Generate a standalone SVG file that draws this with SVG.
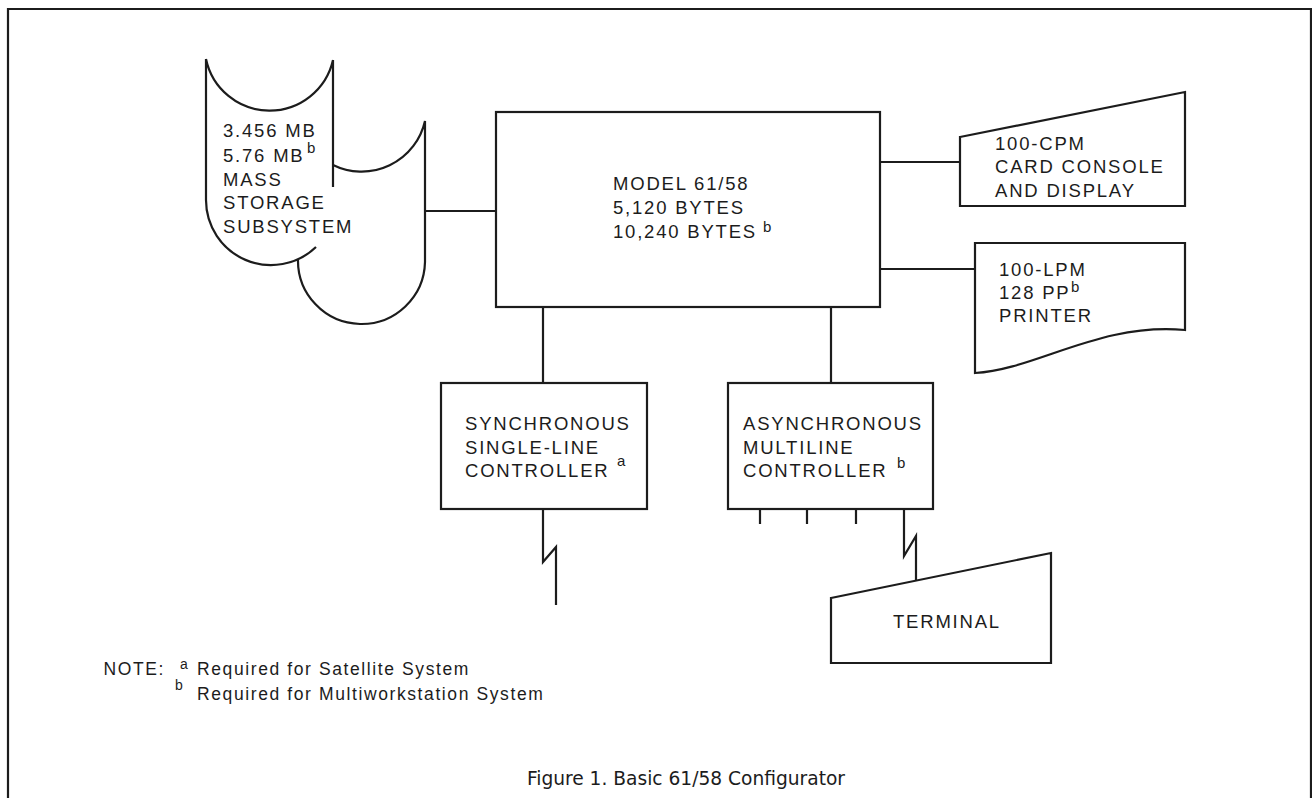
<svg xmlns="http://www.w3.org/2000/svg" width="1312" height="798" viewBox="0 0 1312 798">
<style>
.ln{fill:none;stroke:#1c1c1c;stroke-width:2.2}
.sh{fill:#fff;stroke:#1c1c1c;stroke-width:2.2}
.t{font-family:"Liberation Sans",Arial,sans-serif;font-size:18.5px;letter-spacing:1.8px;fill:#1c1c1c}
.sup{font-family:"Liberation Sans",Arial,sans-serif;font-size:15px;fill:#1c1c1c}
.nsup{font-family:"Liberation Sans",Arial,sans-serif;font-size:14px;fill:#1c1c1c}
.n{font-family:"Liberation Sans",Arial,sans-serif;font-size:17.5px;letter-spacing:1.6px;fill:#1c1c1c}
.cap{font-family:"Liberation Sans Narrow","DejaVu Sans Condensed","Liberation Sans",sans-serif;font-size:20px;fill:#1c1c1c}
</style>
<rect width="1312" height="798" fill="#fff"/>
<path id="frame" class="ln" d="M8,800 V9 H1311 V800"/>
<g id="connectors">
<path class="ln" d="M425,211 H496"/>
<path class="ln" d="M880,162 H960"/>
<path class="ln" d="M880,269 H975"/>
<path class="ln" d="M543,307 V383"/>
<path class="ln" d="M831,307 V383"/>
<path class="ln" d="M543,509 V562 L556,547 V605"/>
<path class="ln" d="M904,509 V556 L916,536 V581"/>
<path class="ln" d="M760,509 v15 M807,509 v15 M856,509 v15"/>
</g>
<g id="mass-storage">
<path class="ln" d="M206,59 A65,65 0 0 0 333,60 M206,59 V200 A65,65 0 0 0 316,247 M333,60 V187"/>
<path class="ln" d="M333,165 A65,65 0 0 0 425,121 V262 A63.5,63.5 0 0 1 298,259"/>
<text class="t" x="223" y="137">3.456 MB</text>
<text class="t" x="223" y="162">5.76 MB</text>
<text class="sup" x="307" y="153">b</text>
<text class="t" x="223" y="186">MASS</text>
<text class="t" x="223" y="209">STORAGE</text>
<text class="t" x="223" y="233">SUBSYSTEM</text>
</g>
<g id="model">
<rect class="sh" x="496" y="112" width="384" height="195"/>
<text class="t" x="613" y="190">MODEL 61/58</text>
<text class="t" x="613" y="214">5,120 BYTES</text>
<text class="t" x="613" y="238">10,240 BYTES</text>
<text class="sup" x="763" y="232">b</text>
</g>
<g id="card-console">
<path class="sh" d="M960,137 L1185,92 V206 H960 Z"/>
<text class="t" x="995" y="150">100-CPM</text>
<text class="t" x="995" y="173">CARD CONSOLE</text>
<text class="t" x="995" y="197">AND DISPLAY</text>
</g>
<g id="printer">
<path class="sh" d="M975,243 H1185 V330 C1100,322 1035,370 975,373 Z"/>
<text class="t" x="999" y="276">100-LPM</text>
<text class="t" x="999" y="299">128 PP</text>
<text class="sup" x="1071" y="292">b</text>
<text class="t" x="999" y="322">PRINTER</text>
</g>
<g id="sync-controller">
<rect class="sh" x="441" y="383" width="206" height="126"/>
<text class="t" x="465" y="430">SYNCHRONOUS</text>
<text class="t" x="465" y="454">SINGLE-LINE</text>
<text class="t" x="465" y="477">CONTROLLER</text>
<text class="sup" x="617" y="466">a</text>
</g>
<g id="async-controller">
<rect class="sh" x="728" y="383" width="205" height="126"/>
<text class="t" x="743" y="430">ASYNCHRONOUS</text>
<text class="t" x="743" y="454">MULTILINE</text>
<text class="t" x="743" y="477">CONTROLLER</text>
<text class="sup" x="897" y="468">b</text>
</g>
<g id="terminal">
<path class="sh" d="M831,598 L1051,553 V663 H831 Z"/>
<text class="t" x="893" y="628">TERMINAL</text>
</g>
<g id="notes">
<text class="n" x="165" y="675" text-anchor="end">NOTE:</text>
<text class="nsup" x="180" y="669">a</text>
<text class="n" x="197" y="675">Required for Satellite System</text>
<text class="nsup" x="175" y="690">b</text>
<text class="n" x="197" y="700">Required for Multiworkstation System</text>
</g>
<text id="caption" class="cap" x="527" y="785" textLength="318" lengthAdjust="spacingAndGlyphs">Figure 1. Basic 61/58 Configurator</text>
</svg>
